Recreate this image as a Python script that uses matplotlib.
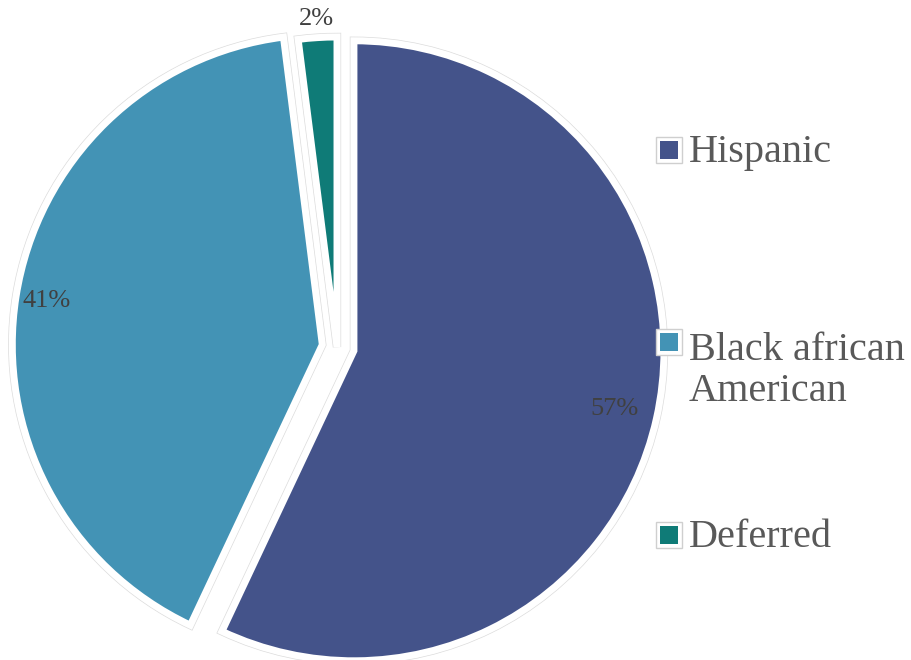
import matplotlib
matplotlib.use("Agg")
import matplotlib.pyplot as plt
from matplotlib.patches import Rectangle
import numpy as np

# share of participants by group
labels = ["Hispanic", "Black african\nAmerican", "Deferred"]
values = [57, 41, 2]
colors = ["#44538a", "#4393b5", "#0f7b77"]
explode = [0.056, 0.048, 0.0]
# how far out (in radii) each percentage label sits
label_dist = [0.86, 0.90, 1.06]

W, H = 912, 660
plt.rcParams['font.family'] = ['Liberation Serif', 'DejaVu Serif']

fig = plt.figure(figsize=(W / 100, H / 100), dpi=100)

# square axes box, pie center near (337, 347) px, radius 310 px
cx, cy, R = 337, 347, 310
half = R * 1.1
ax = fig.add_axes([(cx - half) / W, (H - cy - half) / H, 2 * half / W, 2 * half / H])

# faint grey rim under the white slice borders
ax.pie(values, explode=explode, colors=colors, startangle=90, counterclock=False,
       wedgeprops=dict(edgecolor="#dcdcdc", linewidth=6))
wedges, _ = ax.pie(values, explode=explode, colors=colors, startangle=90, counterclock=False,
                   wedgeprops=dict(edgecolor="white", linewidth=5))
ax.set_xlim(-1.1, 1.1)
ax.set_ylim(-1.1, 1.1)
ax.set_aspect('equal')

# percentage labels
for w, v, d in zip(wedges, values, label_dist):
    mid = np.deg2rad((w.theta1 + w.theta2) / 2)
    x = w.center[0] + d * np.cos(mid)
    y = w.center[1] + d * np.sin(mid)
    ax.text(x, y, f"{v}%", ha="center", va="center", fontsize=19, color="#404040")

# legend drawn by hand so the marker lines up with the first text line
def px(x, y):
    return x / W, 1 - y / H

legend_y = [150, 342, 535]
line_h = 47
for lab, col, ly in zip(labels, colors, legend_y):
    x0, y0 = px(656, ly + 13)
    fig.patches.append(Rectangle((x0, y0), 26 / W, 26 / H, transform=fig.transFigure,
                                 facecolor="white", edgecolor="#cfcfcf", linewidth=1))
    x1, y1 = px(660, ly + 9)
    fig.patches.append(Rectangle((x1, y1), 18 / W, 18 / H, transform=fig.transFigure,
                                 facecolor=col, edgecolor="none"))
    # baseline alignment goes by the last line of a multi-line label
    n_extra = lab.count("\n")
    tx, ty = px(689, ly + 12 + line_h * n_extra)
    fig.text(tx, ty, lab, ha="left", va="baseline", fontsize=29, color="#595959",
             linespacing=1.15)

fig.savefig("out.png", dpi=100)
